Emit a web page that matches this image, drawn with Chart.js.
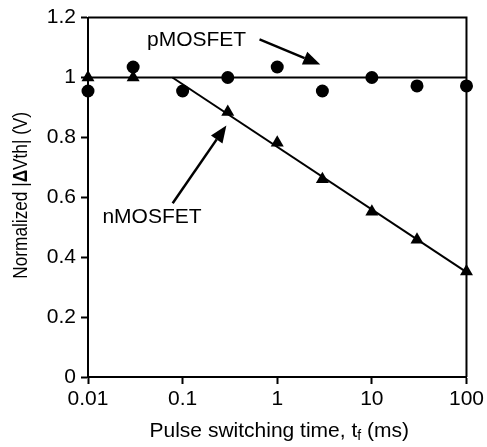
<!DOCTYPE html>
<html lang="en">
  <head>
    <meta charset="UTF-8" />
    <title>Normalized dVth vs pulse switching time</title>
    <script src="https://cdn.jsdelivr.net/npm/chart.js"></script>
    <style>
      html, body { margin: 0; padding: 0; background: #fff; }
      #wrap { width: 487px; height: 447px; }
    </style>
  </head>
  <body>
    <div id="wrap"><canvas id="chart" width="487" height="447"></canvas></div>
    <script>
      // data
      const switchTimes = [0.01, 0.03, 0.1, 0.3, 1, 3, 10, 30, 100];
      const pmosValues = [0.955, 1.035, 0.955, 1.0, 1.035, 0.955, 1.0, 0.972, 0.972];
      const nmosTimes = [0.01, 0.03, 0.3, 1, 3, 10, 30, 100];
      const nmosValues = [1.0, 1.0, 0.885, 0.782, 0.66, 0.552, 0.458, 0.352];
      // fitted lines (end points)
      const pmosFitX = [0.01, 100];
      const pmosFitY = [1.0, 1.0];
      const nmosFitX = [0.078, 100];
      const nmosFitY = [1.0, 0.35];
      // tick labels
      const xTicks = [0.01, 0.1, 1, 10, 100];
      const xTickLabels = ["0.01", "0.1", "1", "10", "100"];
      const yTickLabels = ["0", "0.2", "0.4", "0.6", "0.8", "1", "1.2"];

      const FONT = "'Liberation Sans', Arial, Helvetica, sans-serif";
      const toPts = (xs, ys) => xs.map((x, i) => ({ x: x, y: ys[i] }));

      // 注解文字與箭頭 (data coordinates, text y = baseline)
      const notes = [
        { text: "pMOSFET", x: 0.042, y: 1.104, from: [0.65, 1.127], to: [2.85, 1.043] },
        { text: "nMOSFET", x: 0.0142, y: 0.515, from: [0.0785, 0.58], to: [0.29, 0.84] }
      ];

      function arrow(ctx, x1, y1, x2, y2) {
        const ang = Math.atan2(y2 - y1, x2 - x1);
        const len = 17, half = 7;
        const bx = x2 - Math.cos(ang) * len, by = y2 - Math.sin(ang) * len;
        ctx.beginPath();
        ctx.moveTo(x1, y1);
        ctx.lineTo(bx, by);
        ctx.stroke();
        ctx.beginPath();
        ctx.moveTo(x2, y2);
        ctx.lineTo(bx + Math.sin(ang) * half, by - Math.cos(ang) * half);
        ctx.lineTo(bx - Math.sin(ang) * half, by + Math.cos(ang) * half);
        ctx.closePath();
        ctx.fill();
      }

      const decor = {
        id: "decor",
        beforeDatasetsDraw(chart) {
          const { ctx, chartArea: a } = chart;
          ctx.save();
          ctx.strokeStyle = "#000";
          ctx.lineWidth = 2;
          ctx.beginPath();
          ctx.moveTo(a.left, a.top);
          ctx.lineTo(a.right, a.top);
          ctx.lineTo(a.right, a.bottom);
          ctx.stroke();
          ctx.restore();
        },
        afterDatasetsDraw(chart) {
          const { ctx, scales } = chart;
          const sx = scales.x, sy = scales.y;
          ctx.save();
          ctx.fillStyle = "#000";
          ctx.strokeStyle = "#000";
          ctx.lineWidth = 2.5;
          ctx.font = "21px " + FONT;
          ctx.textBaseline = "alphabetic";
          ctx.textAlign = "left";
          notes.forEach(n => {
            ctx.fillText(n.text, sx.getPixelForValue(n.x), sy.getPixelForValue(n.y));
            arrow(ctx,
              sx.getPixelForValue(n.from[0]), sy.getPixelForValue(n.from[1]),
              sx.getPixelForValue(n.to[0]), sy.getPixelForValue(n.to[1]));
          });
          ctx.restore();
        },
        afterDraw(chart) {
          const { ctx, chartArea: a } = chart;
          ctx.save();
          ctx.fillStyle = "#000";
          ctx.textBaseline = "alphabetic";
          // x 標題 with subscript f
          const p1 = "Pulse switching time, t", sub = "f", p2 = " (ms)";
          ctx.font = "21px " + FONT;
          const w1 = ctx.measureText(p1).width, w3 = ctx.measureText(p2).width;
          ctx.font = "14px " + FONT;
          const w2 = ctx.measureText(sub).width;
          let x = (a.left + a.right) / 2 + 2 - (w1 + w2 + w3) / 2;
          const yb = 437;
          ctx.font = "21px " + FONT;
          ctx.fillText(p1, x, yb);
          x += w1;
          ctx.font = "14px " + FONT;
          ctx.fillText(sub, x, yb + 3);
          x += w2;
          ctx.font = "21px " + FONT;
          ctx.fillText(p2, x, yb);

          // y 標題, bold delta, a bit condensed like the figure
          const parts = [["Normalized |", "21px "], ["\u0394", "bold 21px "], ["Vth| (V)", "21px "]];
          let tw = 0;
          parts.forEach(p => { ctx.font = p[1] + FONT; tw += ctx.measureText(p[0]).width; });
          ctx.translate(27, (a.top + a.bottom) / 2 - 2);
          ctx.rotate(-Math.PI / 2);
          ctx.scale(0.82, 1);
          let px = -tw / 2;
          parts.forEach(p => {
            ctx.font = p[1] + FONT;
            ctx.fillText(p[0], px, 0);
            px += ctx.measureText(p[0]).width;
          });
          ctx.restore();
        }
      };

      new Chart(document.getElementById("chart"), {
        type: "scatter",
        data: {
          datasets: [
            {
              label: "pMOSFET fit",
              data: toPts(pmosFitX, pmosFitY),
              showLine: true,
              pointRadius: 0,
              borderColor: "#000",
              borderWidth: 2,
              clip: false
            },
            {
              label: "nMOSFET fit",
              data: toPts(nmosFitX, nmosFitY),
              showLine: true,
              pointRadius: 0,
              borderColor: "#000",
              borderWidth: 2,
              clip: false
            },
            {
              label: "pMOSFET",
              data: toPts(switchTimes, pmosValues),
              pointStyle: "circle",
              pointRadius: 6.5,
              backgroundColor: "#000",
              borderColor: "#000",
              borderWidth: 0,
              clip: false
            },
            {
              label: "nMOSFET",
              data: toPts(nmosTimes, nmosValues),
              pointStyle: "triangle",
              pointRadius: 7.5,
              backgroundColor: "#000",
              borderColor: "#000",
              borderWidth: 0,
              clip: false
            }
          ]
        },
        options: {
          responsive: false,
          animation: false,
          events: [],
          layout: { padding: { top: 16, right: 19, left: 0, bottom: 0 } },
          plugins: {
            legend: { display: false },
            tooltip: { enabled: false }
          },
          scales: {
            x: {
              type: "logarithmic",
              min: 0.01,
              max: 100,
              afterBuildTicks: axis => { axis.ticks = xTicks.map(v => ({ value: v })); },
              afterFit: axis => { axis.height = 70; },
              ticks: {
                color: "#000",
                font: { family: FONT, size: 21 },
                padding: 3,
                maxRotation: 0,
                callback: (v) => xTickLabels[xTicks.indexOf(v)]
              },
              grid: { display: true, drawOnChartArea: false, drawTicks: true, tickLength: 7, tickColor: "#000", tickWidth: 2 },
              border: { display: true, color: "#000", width: 2 }
            },
            y: {
              min: 0,
              max: 1.2,
              afterFit: axis => { axis.width = 88; },
              ticks: {
                stepSize: 0.2,
                color: "#000",
                font: { family: FONT, size: 21 },
                padding: 5,
                callback: (v) => yTickLabels[Math.round(v / 0.2)]
              },
              grid: { display: true, drawOnChartArea: false, drawTicks: true, tickLength: 7, tickColor: "#000", tickWidth: 2 },
              border: { display: true, color: "#000", width: 2 }
            }
          }
        },
        plugins: [decor]
      });
    </script>
  </body>
</html>
